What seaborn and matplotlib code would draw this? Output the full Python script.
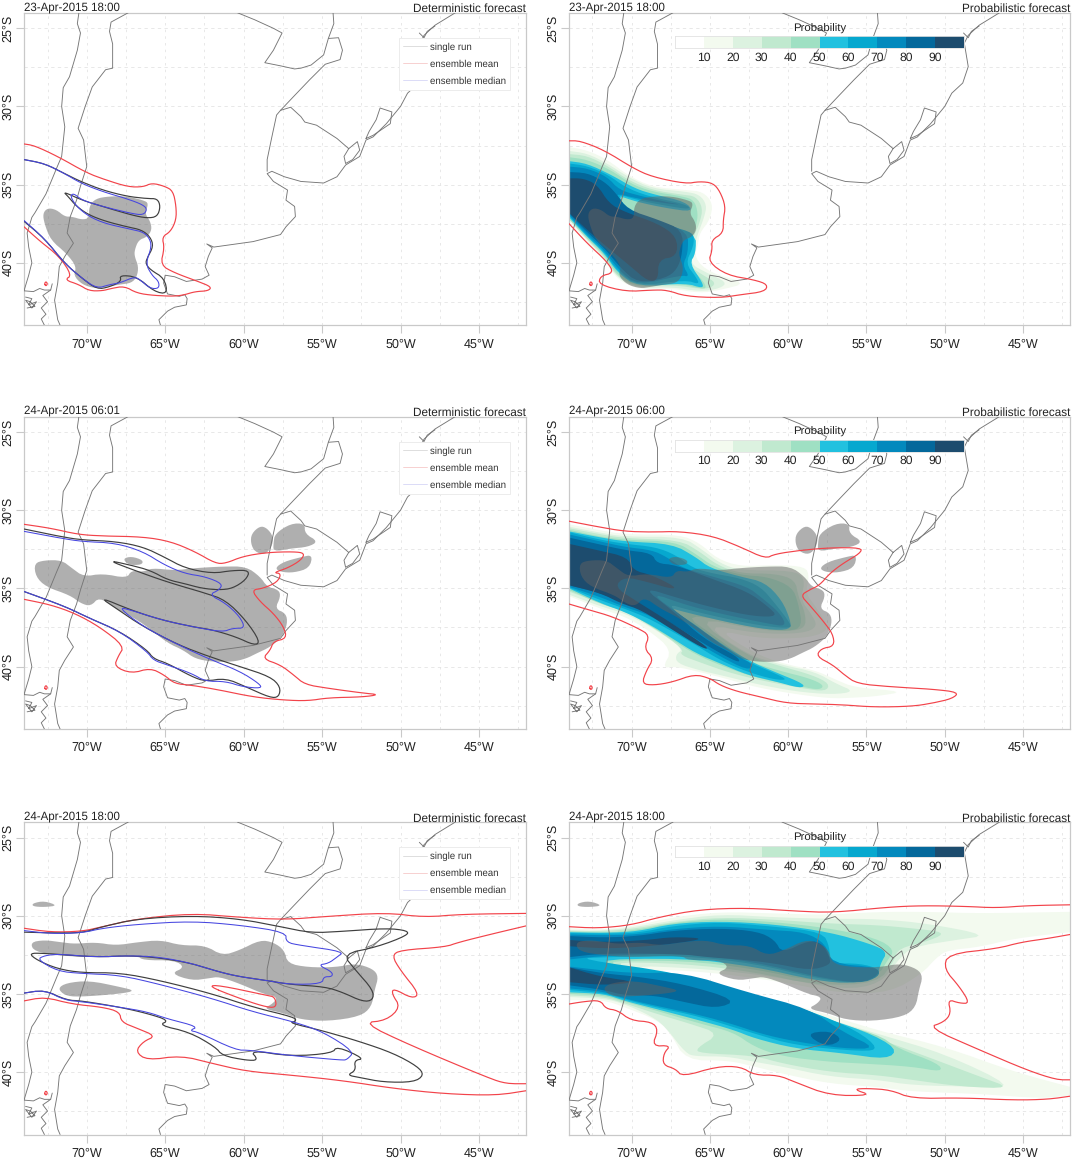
import matplotlib
matplotlib.use("Agg")
import matplotlib.pyplot as plt
from matplotlib.lines import Line2D
import seaborn as sns

# ---------- geography (lon, lat) ----------
CHILE_COAST = [(-70.5,-24),(-70.6,-24.7),(-70.4,-25.3),(-70.6,-26.4),(-71.1,-28.1),(-71.5,-28.8),(-71.6,-30),(-71.4,-31.3),(-71.6,-33.2),(-71.9,-33.9),(-72.6,-35.6),(-73.3,-36.8),(-73.5,-37.1),(-73.8,-38.1),(-73.7,-39),(-73.5,-40),(-73.7,-40.8),(-74,-41.8),(-73.4,-41.85),(-73,-41.65),(-72.7,-41.75),(-72.3,-41.75),(-72.2,-41.35)]
FJORD_COAST = [(-72.3,-41.75),(-72.8,-42.1),(-72.5,-42.5),(-72.9,-42.9),(-72.6,-43.3),(-72.9,-43.6),(-72.7,-44)]
ISLANDS = [(-73.9,-42.2),(-73.5,-42.3),(-73.7,-42.7),(-73.2,-42.5),(-73.5,-42.9),(-73.9,-42.4),(-73.6,-42.5),(-73.3,-42.8),(-73.8,-42.9)]
ANDES_BORDER = [(-67.35,-24),(-68.45,-24.6),(-68.55,-25.2),(-68.35,-26),(-68.35,-27.55),(-68.8,-27.65),(-69.65,-28.75),(-70.1,-30),(-70.55,-31.4),(-70.2,-32.15),(-70,-33.85),(-70.4,-35.1),(-70.65,-36),(-71.05,-37.05),(-71.25,-38.1),(-70.85,-38.75),(-71.4,-39.6),(-71.75,-40.25),(-71.85,-41.3),(-72.05,-42.4),(-71.85,-43.65),(-71.7,-44)]
PARAGUAY_BORDER = [(-60.4,-24),(-59.3,-24.45),(-58.1,-25),(-57.55,-25.3),(-58.1,-26.4),(-58.65,-27.2),(-57.65,-27.4),(-56.75,-27.6),(-56.35,-27.55),(-55.7,-27.35),(-54.9,-26.7),(-54.6,-25.65),(-54.25,-24.7),(-54.3,-24)]
URUGUAY_RIVER = [(-54.6,-25.65),(-53.95,-25.6),(-53.7,-26.4),(-53.85,-27),(-54.8,-27.3),(-55.8,-28.3),(-56.8,-29.35),(-57.65,-30.25),(-57.9,-30.55),(-58.2,-31.95),(-58.5,-33.4),(-58.5,-34.15)]
URUGUAY_NORTH = [(-57.65,-30.25),(-57,-30.05),(-56.35,-30.65),(-56.1,-31),(-55.35,-31.2),(-54.05,-32.05),(-53.3,-32.7)]
ATLANTIC_COAST = [(-46.5,-24),(-47.8,-24.8),(-48.5,-25.45),(-48.75,-25.95),(-48.5,-27.45),(-48.85,-28.5),(-49.55,-29.15),(-50,-30),(-50.9,-31.1),(-51.75,-31.95),(-52.2,-32.15),(-52.6,-33.2),(-53.5,-33.75),(-54.05,-34.5),(-54.9,-34.9),(-56.35,-34.8),(-57.4,-34.5),(-58.2,-34.15),(-58.5,-34.3),(-58.1,-34.8),(-57.2,-35.35),(-57.3,-36),(-56.75,-36.4),(-56.7,-37.05),(-57.3,-37.7),(-57.65,-38.2),(-59.4,-38.65),(-61.9,-39),(-62.35,-38.8),(-62,-39.05),(-62.25,-39.6),(-62.45,-40.25),(-62.2,-40.8),(-62.65,-41.05),(-63.65,-41.2),(-64.4,-40.9),(-65,-40.8),(-65.1,-41.3),(-64.85,-42),(-64.1,-42.15),(-63.75,-42.05),(-63.6,-42.3),(-63.65,-42.7),(-64.4,-42.85),(-64.85,-43.1),(-65.4,-43.65),(-65.3,-44)]
PATOS_LAGOON = [(-52.2,-32.05),(-52,-31.6),(-51.55,-30.85),(-51.3,-30.1),(-50.55,-30.35),(-50.65,-31.1),(-51.75,-31.85),(-52.2,-32.05)]
MERIN_LAGOON = [(-53.3,-32.7),(-52.75,-32.25),(-52.6,-32.8),(-53.05,-33.4),(-53.5,-33.65),(-53.6,-33.2),(-53.3,-32.7)]
PARANAGUA = [(-48.8,-25.3),(-48.5,-25.6),(-48.3,-25.2),(-48.1,-25.05),(-47.8,-24.85)]
RED_RING = [(-72.7,-41.35),(-72.6,-41.2),(-72.5,-41.35),(-72.6,-41.5),(-72.7,-41.35)]
GEO_LINES = [CHILE_COAST, FJORD_COAST, ISLANDS, ANDES_BORDER, PARAGUAY_BORDER, URUGUAY_RIVER, URUGUAY_NORTH, ATLANTIC_COAST, PATOS_LAGOON, MERIN_LAGOON, PARANAGUA]

# ---------- observations ----------
OBS1_MAIN = [(-72.8,-36.85),(-72.5,-36.5),(-71.95,-36.6),(-71.4,-37.05),(-70.95,-37.05),(-70.3,-37.25),(-69.85,-37.15),(-69.85,-36.4),(-69.45,-35.9),(-68.55,-35.75),(-67.45,-35.75),(-66.4,-36),(-66.05,-36.2),(-66.3,-36.85),(-65.95,-37.35),(-65.85,-37.9),(-66.15,-38.35),(-66.7,-38.55),(-66.95,-39.2),(-66.95,-39.6),(-66.7,-40.25),(-66.8,-40.9),(-67.15,-41.3),(-67.9,-41.4),(-68.8,-41.55),(-69.45,-41.65),(-70.3,-41.4),(-70.85,-40.8),(-70.65,-40.25),(-71.3,-39.4),(-72.3,-38.55),(-72.7,-37.5)]
OBS2_MAIN = [(-73.35,-33.4),(-72.7,-33.2),(-71.6,-33.2),(-70.95,-33.7),(-70.2,-34.25),(-69,-34.05),(-67.45,-34.35),(-67.15,-33.85),(-66.4,-33.95),(-65.85,-33.7),(-64.4,-33.85),(-63.1,-33.7),(-61.35,-33.6),(-59.85,-33.6),(-58.95,-34.25),(-58.5,-34.9),(-57.75,-35.1),(-57.65,-35.55),(-58,-36.3),(-57.3,-36.6),(-57.2,-37.25),(-57.55,-38.1),(-58.3,-38.75),(-59.15,-39.15),(-59.85,-39.5),(-60.7,-39.7),(-62,-39.7),(-63.1,-39.5),(-63.85,-38.95),(-64.85,-38.5),(-66.15,-37.45),(-67.15,-36.8),(-68.15,-36.3),(-69.2,-35.55),(-69.75,-36.15),(-70.4,-35.95),(-71.05,-35.45),(-72.6,-34.9),(-73.25,-34.25)]
OBS2_BLOB = [(-67.7,-33.1),(-67.15,-32.95),(-66.4,-33.2),(-66.5,-33.5),(-67.35,-33.5)]
OBS2_WEST = [(-59.5,-31.5),(-58.95,-31),(-58.5,-31.15),(-58.1,-31.7),(-58.2,-32.35),(-58.65,-32.85),(-59.3,-32.65),(-59.55,-32.1)]
OBS2_MID = [(-58,-31.5),(-57,-30.85),(-56.1,-30.85),(-56.1,-31.5),(-55.25,-32),(-55.9,-32.35),(-57,-32.45),(-58.1,-32.65),(-58.1,-32.1)]
OBS2_LOW = [(-58,-33.7),(-57.45,-33.3),(-56.35,-33),(-55.6,-32.85),(-55.8,-33.7),(-56.8,-34),(-57.65,-33.95)]
OBS3_TOP = [(-73.45,-29.2),(-72.7,-29.05),(-71.85,-29.35),(-72.7,-29.45),(-73.45,-29.4)]
OBS3_MAIN = [(-73.6,-31.7),(-72.7,-31.55),(-71.6,-31.7),(-70.75,-31.8),(-69.45,-31.7),(-68.15,-31.9),(-66.8,-31.7),(-65.3,-31.55),(-64,-31.9),(-62.45,-31.9),(-61.35,-32.55),(-60.25,-32.2),(-58.95,-31.55),(-58.1,-31.7),(-57.4,-32.2),(-57.2,-33.05),(-55.9,-33.3),(-54.15,-33.3),(-52.85,-33.05),(-51.75,-33.4),(-51.4,-33.9),(-51.65,-34.75),(-51.85,-35.85),(-52.6,-36.45),(-54.6,-36.75),(-56.35,-36.65),(-57.4,-36.25),(-58.75,-35.95),(-58.1,-35.6),(-57.85,-35.2),(-58.75,-35),(-60.25,-34.35),(-61.55,-33.9),(-62.2,-34),(-63.3,-34.15),(-64.65,-33.7),(-63.75,-33.3),(-64.4,-32.85),(-66.4,-32.85),(-66.8,-32.55),(-70.1,-32.65),(-71.6,-32.55),(-73.35,-32.3)]
OBS3_LOW = [(-71.85,-34.65),(-71.3,-34.3),(-69.85,-34.15),(-67.9,-34.55),(-66.9,-34.8),(-67.9,-35),(-70.55,-35.2),(-71.4,-35.1)]
OBS = [[OBS1_MAIN], [OBS2_MAIN, OBS2_BLOB, OBS2_WEST, OBS2_MID, OBS2_LOW], [OBS3_TOP, OBS3_MAIN, OBS3_LOW]]

# ---------- deterministic contours ----------
D1_SINGLE = [(-74,-33.4),(-72.7,-33.65),(-71.4,-34.3),(-70.4,-34.8),(-69,-35.35),(-67.45,-35.75),(-66.15,-35.9),(-65.5,-35.9),(-65.3,-36.4),(-65.5,-37.05),(-66.15,-37.15),(-67.15,-36.95),(-69,-36.4),(-70.3,-36),(-71.5,-35.45),(-71.2,-35.75),(-70.65,-36.4),(-69.85,-36.95),(-68.8,-37.35),(-67.45,-37.7),(-66.5,-37.9),(-65.95,-38.35),(-65.75,-38.95),(-66.15,-39.7),(-66.25,-40.05),(-65.95,-40.45),(-65.05,-41),(-64.85,-42),(-65.7,-41.85),(-66.8,-40.9),(-67.9,-40.8),(-67.8,-41.2),(-68.55,-41.55),(-69.35,-41.7),(-70.3,-41),(-71.4,-40.05),(-72.7,-38.45),(-74,-37.35)]
D1_MEAN = [(-74,-32.4),(-73.35,-32.5),(-71.85,-33.2),(-70,-34.25),(-68.8,-34.7),(-67.35,-35.15),(-66.4,-35.15),(-65.85,-34.9),(-65.05,-35.1),(-64.5,-35.4),(-64.3,-36.4),(-64.3,-37.25),(-64.65,-38),(-65.2,-38.35),(-65.05,-39.05),(-65.3,-40.15),(-64.4,-40.65),(-62.9,-41.2),(-62.05,-41.55),(-62.25,-41.8),(-63.1,-41.85),(-63.75,-42.05),(-64.4,-42.15),(-65.7,-42.1),(-66.8,-41.95),(-67.6,-41.5),(-68.45,-41.65),(-69,-41.8),(-69.85,-41.8),(-70.5,-41.4),(-71.4,-41.1),(-70.95,-40.8),(-71.75,-39.6),(-72.95,-38.65),(-74,-37.7)]
D1_MEDIAN = [(-74,-33.4),(-72.7,-33.65),(-71.4,-34.3),(-70.4,-34.9),(-69,-35.45),(-67.45,-35.9),(-66.4,-36.3),(-66.15,-36.6),(-66.4,-36.95),(-67.15,-36.85),(-69,-36.4),(-70.3,-36),(-70.85,-35.55),(-71.05,-35.75),(-70.65,-36.4),(-69.85,-37.05),(-68.8,-37.5),(-67.45,-37.8),(-66.5,-38),(-66.05,-38.35),(-65.85,-38.95),(-66.25,-40.05),(-65.85,-40.8),(-65.4,-41.2),(-65.4,-41.65),(-65.95,-41.65),(-66.6,-41.1),(-66.95,-40.9),(-67.9,-41.3),(-68.55,-41.4),(-69.35,-41.65),(-70.3,-41),(-71.4,-40.05),(-72.7,-38.45),(-74,-37.3)]
D2_SINGLE = [(-74,-31.2),(-71.6,-31.7),(-70.3,-31.9),(-68.15,-32),(-66.4,-32.35),(-65.05,-33),(-63.75,-33.7),(-62,-34.05),(-60.7,-33.85),(-59.6,-33.85),(-59.85,-34.45),(-60.7,-35),(-61.55,-35.1),(-62.65,-35),(-63.75,-34.7),(-64.85,-34.45),(-65.95,-33.85),(-67.25,-33.5),(-68.65,-33.2),(-66.95,-33.85),(-64.85,-34.6),(-62.45,-35.3),(-61.15,-35.75),(-59.85,-37.05),(-58.95,-38.4),(-59.3,-38.65),(-60.5,-38.1),(-62,-37.65),(-63.3,-37.45),(-65.3,-37),(-67.15,-36.4),(-69.2,-35.55),(-68.1,-36.3),(-66.4,-37.45),(-64.2,-38.6),(-62.25,-39.35),(-60.25,-40),(-58.3,-40.65),(-57.65,-41.3),(-57.75,-41.95),(-58.3,-42),(-59.85,-41.3),(-61.15,-40.75),(-62.45,-40.95),(-63.3,-40.65),(-64.85,-39.8),(-65.75,-39.5),(-66.15,-38.95),(-67.9,-37.75),(-69.85,-36.9),(-71.4,-36.15),(-74,-35.2)]
D2_MEAN = [(-74,-30.9),(-72.3,-31.15),(-70.55,-31.55),(-69,-31.65),(-66.4,-31.7),(-64.65,-32),(-63.1,-32.65),(-61.8,-33.4),(-61.15,-33.4),(-60.05,-32.95),(-58.5,-32.7),(-56.8,-32.65),(-56.1,-32.75),(-56.35,-33.2),(-57.2,-33.7),(-58.1,-34),(-57.6,-34.05),(-57.85,-34.6),(-58.75,-35),(-59.5,-35.1),(-58.95,-35.85),(-58.1,-36.6),(-57.45,-37.45),(-57.25,-38.2),(-58.1,-38.4),(-58.3,-38.95),(-58.8,-39.5),(-57.65,-39.9),(-56.8,-40.55),(-56.1,-41.15),(-54.6,-41.4),(-52.4,-41.7),(-51.35,-41.8),(-52.4,-41.95),(-54.6,-42),(-55.9,-42.2),(-57.45,-42.15),(-59.4,-41.95),(-61.55,-41.5),(-63.3,-41.2),(-64.4,-41.1),(-65.05,-40.55),(-65.95,-40.1),(-67.15,-40.45),(-68.25,-40),(-68,-39.35),(-67.6,-38.7),(-69.2,-37.45),(-70.75,-36.6),(-72.3,-36.05),(-74,-35.7)]
D2_MEDIAN = [(-74,-31.35),(-71.6,-31.8),(-70.3,-32),(-68.15,-32.1),(-66.4,-32.65),(-65.05,-33.5),(-63.75,-34.05),(-62.45,-34.25),(-61.35,-34.7),(-61.55,-35.1),(-62.2,-35.4),(-61.15,-35.95),(-60.25,-36.8),(-59.9,-37.55),(-60.7,-37.55),(-61.35,-37.8),(-63.3,-37.45),(-65.3,-37),(-67.15,-36.4),(-68,-36.2),(-66.4,-37.45),(-64.2,-38.6),(-62.25,-39.5),(-60.25,-40.3),(-59,-41.1),(-58.85,-41.4),(-60.05,-41.3),(-61.15,-40.95),(-62.45,-40.95),(-63.3,-40.45),(-64.85,-39.9),(-65.75,-39.6),(-66.15,-39.05),(-67.9,-37.75),(-69.85,-36.9),(-71.4,-36.15),(-74,-35.2)]
D3_SINGLE = [(-74,-31.05),(-72.3,-31.1),(-70.3,-31.1),(-69,-30.7),(-66.8,-30.2),(-63.3,-30),(-60.25,-30.2),(-57.65,-30.7),(-55.7,-31.1),(-53.7,-31),(-50.9,-30.8),(-49.55,-30.95),(-49.55,-31.25),(-51.5,-32),(-53.7,-32.45),(-52.85,-33.5),(-51.75,-34.75),(-51.75,-35.4),(-52.4,-35.5),(-53.7,-34.9),(-54.8,-34.55),(-57,-34.4),(-58.5,-34.15),(-60.25,-33.9),(-61.55,-33.6),(-63.3,-33.05),(-65.3,-32.7),(-67.25,-32.55),(-69.45,-32.65),(-72.7,-32.4),(-73.7,-32.4),(-73.15,-32.85),(-71.85,-33.4),(-70.3,-33.65),(-67.9,-33.65),(-65.3,-34.15),(-62,-35),(-59.4,-35.85),(-56.75,-36.5),(-56.65,-36.75),(-57.1,-36.85),(-55,-37.35),(-52.6,-38.05),(-50.45,-38.8),(-48.9,-39.65),(-48.5,-40.2),(-49.15,-40.65),(-51.1,-40.65),(-52.6,-40.35),(-53.4,-40.2),(-52.85,-39.9),(-52.95,-39.25),(-52.3,-39.15),(-54.05,-38.35),(-54.35,-38.8),(-57,-39),(-59.6,-38.6),(-59.05,-39.25),(-59.85,-39.25),(-61.35,-38.95),(-61.8,-38.4),(-63.45,-37.45),(-65.4,-37),(-64.75,-36.7),(-66.15,-36.25),(-67.9,-35.85),(-70.3,-35.45),(-71.3,-35.4),(-72.7,-34.75),(-74,-34.95)]
D3_MEAN_TOP = [(-74,-30.8),(-72.3,-31.05),(-70.3,-31),(-69,-30.7),(-66.8,-30.2),(-63.3,-29.85),(-60.25,-30.1),(-57.4,-30.25),(-54.8,-30.05),(-50.9,-29.8),(-48.5,-30.1),(-46.05,-29.9),(-42,-29.85)]
D3_MEAN_MID = [(-42,-30.65),(-44.1,-31.15),(-46.3,-31.7),(-47.15,-32),(-50,-32.2),(-50.55,-32.55),(-50,-33.5),(-48.8,-35),(-49.25,-35.3),(-50.45,-34.65),(-50.55,-35),(-50,-35.85),(-50.9,-36.7),(-52.4,-36.85),(-49.35,-38.3),(-44.35,-40.4),(-43.25,-40.75),(-42,-40.75)]
D3_MEAN_LOW = [(-42,-41.2),(-43.9,-41.5),(-47.15,-41.4),(-50.45,-41.05),(-53.7,-40.55),(-57,-40.2),(-59.85,-39.95),(-62,-39.45),(-64,-38.95),(-66.15,-39.25),(-66.9,-38.7),(-66.4,-38.05),(-65.6,-37.7),(-66.8,-37.2),(-67.8,-36.8),(-67.9,-36.15),(-69,-35.85),(-70.95,-35.65),(-72.7,-35.2),(-74,-35.45)]
D3_MEAN_INNER = [(-62.25,-34.5),(-61.55,-34.45),(-58.5,-35.1),(-58,-35.2),(-57.9,-35.9),(-58.75,-35.8),(-60.5,-35.2),(-62.25,-34.5)]
D3_MEDIAN = [(-74,-30.95),(-72.3,-31.15),(-70.3,-31.1),(-69,-30.8),(-66.8,-30.55),(-63.3,-30.35),(-60.25,-30.6),(-57.3,-31.05),(-57.3,-31.7),(-56.35,-31.9),(-53.6,-32.3),(-54.05,-32.65),(-54.6,-33.05),(-55.25,-33.15),(-54.35,-33.6),(-54.35,-33.9),(-54.9,-33.9),(-55,-34.35),(-57,-34.4),(-58.5,-34.15),(-60.25,-33.9),(-61.55,-33.6),(-63.3,-33.05),(-65.3,-32.65),(-67.25,-32.55),(-69.45,-32.65),(-71.75,-32.45),(-72.7,-32.55),(-73.15,-32.8),(-71.85,-33.55),(-70.3,-33.7),(-67.9,-33.8),(-65.3,-34.4),(-62,-35.3),(-59.4,-36.15),(-56.75,-36.8),(-54.9,-37.45),(-52.95,-38.7),(-53.4,-39.2),(-53.7,-39.25),(-57,-38.95),(-59.6,-38.6),(-60.5,-38.6),(-62.9,-37.45),(-63.45,-37.35),(-62.9,-37.1),(-64.85,-36.6),(-66.15,-36.15),(-67.9,-35.85),(-70.3,-35.5),(-71.4,-35.4),(-72.7,-34.75),(-74,-34.95)]
DET_SINGLE = [[D1_SINGLE],[D2_SINGLE],[D3_SINGLE]]
DET_MEAN = [[D1_MEAN,RED_RING],[D2_MEAN,RED_RING],[D3_MEAN_TOP,D3_MEAN_MID,D3_MEAN_LOW,D3_MEAN_INNER,RED_RING]]
DET_MEDIAN = [[D1_MEDIAN],[D2_MEDIAN],[D3_MEDIAN]]

# ---------- probabilistic: 1 % outline ----------
P1_OUTLINE = [(-74,-32.2),(-73.3,-32.2),(-71.75,-32.8),(-69.9,-33.95),(-68.7,-34.5),(-66.55,-34.95),(-65.65,-34.8),(-64.8,-34.9),(-64.35,-35.45),(-64,-36.4),(-64.15,-37.25),(-64.15,-38.1),(-64.9,-38.55),(-64.85,-39.2),(-65.1,-39.95),(-63.9,-40.8),(-62.15,-41.1),(-61.3,-41.4),(-61.5,-41.85),(-63.05,-42.05),(-64.35,-42.25),(-66.55,-42.15),(-67.75,-41.75),(-68.7,-41.75),(-70.35,-41.85),(-72.1,-41.4),(-72,-40.85),(-71.15,-40.65),(-71.55,-39.95),(-72.85,-38.75),(-74,-37.5)]
P2_OUTLINE = [(-74,-30.7),(-72.2,-31.05),(-70.45,-31.35),(-68.7,-31.4),(-66.95,-31.35),(-64.8,-31.65),(-63.05,-32.35),(-61.45,-33.1),(-60.85,-32.8),(-59.1,-32.55),(-57.35,-32.4),(-55.3,-32.4),(-55.4,-32.75),(-56.5,-33.4),(-57.35,-34.05),(-58,-34.8),(-58.65,-35.1),(-59.2,-35.45),(-58.65,-36.05),(-57.8,-37.05),(-57.15,-37.9),(-57.05,-38.7),(-57.9,-38.85),(-58.2,-39.35),(-57.15,-39.9),(-56.4,-40.55),(-55.6,-41.1),(-53.45,-41.3),(-50.8,-41.45),(-49.1,-41.65),(-49.5,-42.05),(-50.8,-42.35),(-52.1,-42.55),(-54.5,-42.6),(-56.5,-42.45),(-58.25,-42.4),(-60.1,-42.35),(-61.75,-41.95),(-63.25,-41.6),(-64.35,-41.2),(-65,-40.75),(-66,-40.5),(-67.4,-41),(-68.6,-41.2),(-69.35,-41.1),(-69.05,-40.25),(-68.6,-39.5),(-69.2,-38.85),(-68.85,-38),(-69.6,-37.55),(-71.25,-36.8),(-72.65,-36.4),(-74,-36)]
P3_OUTLINE_TOP = [(-74,-30.7),(-72.2,-30.8),(-70.05,-30.6),(-68.3,-30.1),(-65.65,-29.6),(-62.6,-29.5),(-59.55,-29.7),(-57.15,-29.8),(-53.65,-29.45),(-51.45,-29.35),(-48.65,-29.4),(-46.7,-29.5),(-44.7,-29.35),(-42,-29.3)]
P3_OUTLINE_MID = [(-42,-31.2),(-43.4,-31.45),(-45.15,-31.7),(-46.65,-32.1),(-49.8,-32.45),(-50.05,-33.4),(-49.05,-34.55),(-48.4,-35.6),(-49.05,-35.6),(-49.8,-35.35),(-49.6,-36.25),(-50.05,-36.8),(-51.05,-37.15),(-47.75,-38.6),(-44.7,-39.9),(-42.85,-40.5),(-42,-40.5)]
P3_OUTLINE_LOW = [(-42,-41.55),(-43.4,-41.75),(-45.55,-41.8),(-48.85,-41.65),(-52.1,-41.7),(-53.45,-41.15),(-54.95,-41.05),(-55.85,-41.1),(-54.65,-41.5),(-57.35,-41.5),(-59.55,-40.65),(-60.65,-40.2),(-62.15,-40.2),(-63.05,-39.65),(-64.55,-39.65),(-66.75,-40.3),(-67.2,-39.8),(-68,-39.55),(-67.95,-38.8),(-67.5,-38.3),(-68.7,-38.35),(-68.3,-37.3),(-68.7,-36.8),(-70.05,-36.7),(-70.9,-36.05),(-71.65,-35.95),(-72,-35.4),(-73.1,-35.5),(-74,-35.65)]
PROB_OUTLINES = [[P1_OUTLINE,RED_RING],[P2_OUTLINE,RED_RING],[P3_OUTLINE_TOP,P3_OUTLINE_MID,P3_OUTLINE_LOW,RED_RING]]

# ---------- probability levels, panel 1 ----------
P1_L10 = [(-74,-32.6),(-72.85,-32.8),(-71.55,-33.4),(-70.25,-34.4),(-68.7,-35.15),(-66.55,-35.35),(-65.45,-35.45),(-64.8,-36.2),(-65,-37.25),(-65.65,-38.1),(-65.75,-38.75),(-66,-39.7),(-65,-40.65),(-62.6,-41.3),(-64.35,-41.75),(-65.65,-41.95),(-67.4,-41.65),(-69.6,-41.7),(-70.9,-41.1),(-71.75,-39.8),(-72.85,-38.65),(-74,-37.35)]
P1_L20 = [(-74,-32.85),(-72.85,-33),(-71.55,-33.65),(-70.25,-34.5),(-68.7,-35.25),(-66.55,-35.45),(-65.65,-35.65),(-65.2,-36.3),(-65.35,-37.05),(-65.75,-38.1),(-66,-38.95),(-66.3,-40.05),(-65.2,-40.65),(-63.9,-41.25),(-64.35,-41.65),(-65.65,-41.85),(-67.4,-41.55),(-69.6,-41.65),(-70.9,-41),(-71.75,-39.7),(-72.85,-38.55),(-74,-37.25)]
P1_L30 = [(-74,-33.05),(-72.85,-33.15),(-71.45,-33.85),(-70.25,-34.7),(-68.7,-35.35),(-66.75,-35.65),(-65.9,-35.75),(-65.45,-36.5),(-65.65,-37.45),(-66,-38.2),(-66.2,-39.05),(-66.55,-40.05),(-65.45,-40.8),(-64.55,-41.3),(-65.2,-41.75),(-67.4,-41.4),(-69.6,-41.6),(-70.9,-40.95),(-71.75,-39.6),(-72.85,-38.5),(-74,-37.2)]
P1_L40 = [(-74,-33.25),(-72.85,-33.4),(-71.35,-34.05),(-70.05,-34.95),(-68.7,-35.45),(-66.75,-35.75),(-66,-36),(-65.75,-36.85),(-65.9,-37.7),(-66.1,-38.35),(-66.3,-39.2),(-66.55,-40.15),(-65.65,-40.9),(-65.2,-41.55),(-65.45,-41.7),(-67,-41.3),(-69.6,-41.55),(-70.9,-40.85),(-71.75,-39.5),(-72.85,-38.45),(-74,-37.2)]
P1_L50 = [(-74,-33.5),(-72.85,-33.65),(-71.25,-34.4),(-69.8,-35.25),(-68.5,-35.65),(-66.55,-36.1),(-66.05,-36.75),(-67.85,-36.5),(-69.7,-36.1),(-71,-35.65),(-69.9,-36.95),(-68.3,-37.7),(-65.9,-38.1),(-65.9,-39.4),(-66.3,-40.05),(-65.45,-41.3),(-65.45,-41.65),(-66.55,-41.3),(-69.6,-41.55),(-70.9,-40.65),(-71.75,-39.4),(-72.85,-38.35),(-74,-37.1)]
P1_L60 = [(-74,-33.65),(-72.85,-33.8),(-71.45,-34.4),(-70.45,-35.15),(-68.95,-35.75),(-66.55,-36.25),(-66.2,-36.6),(-67.85,-36.35),(-69.6,-36),(-71.05,-35.55),(-70.05,-36.85),(-68.3,-37.5),(-66.2,-38),(-66,-38.45),(-66.1,-39.05),(-66.55,-40.05),(-65.9,-40.9),(-65.65,-41.4),(-66.55,-41.1),(-69.6,-41.5),(-70.9,-40.55),(-71.75,-39.3),(-72.85,-38.3),(-74,-37)]
P1_L70 = [(-74,-33.85),(-72.85,-33.95),(-71.55,-34.5),(-70.8,-35.35),(-69.35,-35.75),(-67.85,-36.1),(-66.75,-36.3),(-67.85,-36.2),(-69.6,-35.9),(-71.25,-35.5),(-70.15,-36.75),(-68.3,-37.35),(-66.4,-38),(-66.4,-39.4),(-66.75,-40.15),(-66.3,-40.9),(-66.85,-40.8),(-69.6,-41.45),(-70.8,-40.5),(-71.75,-39.2),(-72.85,-38.2),(-74,-36.95)]
P1_L80 = [(-74,-34.2),(-72.85,-34.25),(-71.75,-34.8),(-71,-35.55),(-70.25,-36.6),(-68.3,-37.25),(-66.75,-37.9),(-66.75,-39.4),(-67.1,-40.45),(-67.85,-41),(-69.6,-41.3),(-70.7,-40.35),(-71.75,-39.05),(-72.85,-38.05),(-74,-36.85)]
P1_L90 = [(-74,-34.6),(-73.1,-34.6),(-72.2,-35),(-71.45,-36.2),(-70.45,-36.75),(-68.3,-37.5),(-67.1,-38.35),(-67.1,-39.6),(-68.3,-39.8),(-68.3,-41.1),(-68.95,-41.2),(-70.05,-40.25),(-71.75,-38.85),(-72.85,-37.9),(-74,-36.8)]
# ---------- panel 2 ----------
P2_L10 = [(-74,-30.9),(-72.2,-31.25),(-70.45,-31.55),(-66.95,-31.55),(-65.65,-32.1),(-64.55,-33.1),(-63.05,-33.6),(-60.85,-33.5),(-58.9,-33.6),(-58.65,-34.25),(-58.9,-35.3),(-58.25,-36.15),(-57.45,-37.45),(-57.8,-37.9),(-59.1,-38.2),(-61.95,-38.2),(-64.55,-37.65),(-62.15,-39.15),(-60.4,-39.8),(-58.25,-40.25),(-56.95,-40.85),(-55.75,-41.35),(-52.55,-41.6),(-54.3,-41.9),(-55.85,-42),(-57.35,-42.05),(-60,-41.7),(-62.15,-41.3),(-63.9,-40.8),(-65.65,-40.35),(-67.2,-40),(-68.05,-40.1),(-67.4,-38.95),(-68.95,-37.65),(-70.45,-36.8),(-72,-36.3),(-74,-35.5)]
P2_L20 = [(-74,-31.05),(-72.2,-31.4),(-70.45,-31.7),(-66.75,-31.7),(-65.45,-32.55),(-64.35,-33.4),(-63.05,-33.85),(-59.75,-33.85),(-58.9,-34.35),(-59.2,-35.75),(-58.55,-36.6),(-58.1,-37.45),(-59.1,-37.9),(-61.95,-37.9),(-65.45,-37.25),(-62.6,-39.25),(-60.4,-39.9),(-58.25,-40.35),(-56.95,-41.1),(-55.75,-41.6),(-57.15,-41.8),(-59.55,-41.6),(-62.15,-41.1),(-63.9,-40.65),(-65.65,-40.25),(-67.1,-39.8),(-67.2,-39.25),(-66.65,-38.85),(-68.95,-37.35),(-70.45,-36.6),(-72,-36.15),(-74,-35.4)]
P2_L30 = [(-74,-31.15),(-72.2,-31.5),(-70.45,-31.8),(-66.95,-31.9),(-65.65,-32.65),(-64.55,-33.5),(-63.05,-34.05),(-60.85,-34.05),(-59.55,-34.45),(-59.35,-35.55),(-58.9,-36.6),(-58.9,-37.55),(-60,-37.75),(-61.95,-37.65),(-66.1,-36.8),(-62.6,-39.35),(-60.4,-40),(-58.45,-40.55),(-57.35,-41.1),(-57.6,-41.6),(-59.1,-41.4),(-61.95,-40.85),(-63.9,-40.35),(-65.45,-39.8),(-66.95,-39.25),(-66.65,-38.9),(-68.7,-37.45),(-70.45,-36.4),(-72,-35.95),(-74,-35.2)]
P2_L40 = [(-74,-31.25),(-72.2,-31.65),(-70.45,-31.9),(-67.2,-32),(-65.9,-32.8),(-64.8,-33.6),(-63.05,-34.15),(-61.3,-34.25),(-59.75,-34.9),(-59.35,-35.95),(-59.1,-37.45),(-59.9,-37.75),(-61.95,-37.55),(-66.95,-36.5),(-64.35,-38.3),(-62.6,-39.65),(-60.65,-40.25),(-58.65,-40.75),(-57.7,-41.2),(-58,-41.5),(-59.1,-41.3),(-61.95,-40.75),(-63.9,-40.1),(-65.9,-39.25),(-67.4,-38.3),(-68.85,-37.35),(-70.45,-36.45),(-72,-36),(-74,-35.1)]
P2_L50 = [(-74,-31.35),(-72.2,-31.7),(-70.45,-32),(-67.4,-32.15),(-65.9,-33),(-65,-33.7),(-63.05,-34.25),(-61.5,-34.6),(-60.4,-35.75),(-59.85,-37.05),(-59.85,-37.65),(-61.3,-37.65),(-63.5,-37.25),(-66.3,-36.6),(-67.95,-36.15),(-66.3,-37.05),(-64.8,-38.2),(-62.6,-39.6),(-60.85,-40.35),(-58.9,-41.15),(-59.2,-41.4),(-60.85,-40.95),(-62.6,-40.55),(-64.35,-39.8),(-65.9,-39.15),(-67.4,-38.2),(-68.95,-37.25),(-70.45,-36.5),(-72,-35.95),(-74,-35)]
P2_L60 = [(-74,-31.4),(-72.2,-31.85),(-70.45,-32.15),(-68.5,-32.35),(-67.2,-32.85),(-66.1,-33.7),(-64.8,-34.05),(-63.05,-34.35),(-61.75,-34.9),(-60.85,-35.95),(-59.85,-37.25),(-59.85,-37.55),(-61.3,-37.45),(-63.5,-37.05),(-66.3,-36.4),(-67.85,-35.95),(-65.9,-37.45),(-64.55,-38.4),(-62.6,-39.7),(-61.05,-40.35),(-60,-40.85),(-60.85,-40.85),(-62.6,-40.35),(-64.35,-39.6),(-66.1,-38.5),(-67.6,-37.65),(-68.95,-36.9),(-70.45,-36.3),(-72,-35.75),(-74,-34.95)]
P2_L70 = [(-74,-31.55),(-72.2,-31.95),(-70.45,-32.35),(-68.7,-32.55),(-67.75,-33),(-66.75,-33.7),(-64.8,-34.25),(-62.6,-34.9),(-61.75,-35.55),(-60.5,-36.6),(-60.1,-37.45),(-61.3,-37.25),(-63.5,-36.8),(-66.3,-36.15),(-68.95,-35.2),(-66.75,-36.8),(-65.2,-37.9),(-63.25,-39.35),(-62.15,-39.9),(-62.6,-40.25),(-64.35,-39.35),(-66.1,-38.3),(-67.6,-37.45),(-69.15,-36.6),(-70.45,-36.2),(-72,-35.55),(-74,-34.9)]
P2_L80 = [(-74,-31.75),(-72.2,-32.15),(-70.45,-32.55),(-68.7,-32.75),(-68.4,-33.4),(-67.2,-33.5),(-65,-34.35),(-62.6,-35.2),(-61.3,-36.15),(-60.65,-36.8),(-62.15,-36.8),(-64.55,-36.3),(-66.95,-35.65),(-69.35,-34.9),(-67.4,-36.4),(-65.45,-38.2),(-63.25,-39.35),(-63.05,-39.8),(-64.35,-39.15),(-66.1,-38.1),(-67.6,-37.15),(-69.35,-36.3),(-70.45,-35.95),(-72,-35.3),(-74,-34.8)]
P2_L90 = [(-74,-32.15),(-72.2,-32.55),(-70.25,-33),(-69.9,-33.85),(-68.7,-34.15),(-67.2,-34.9),(-67.4,-35.05),(-68.95,-34.6),(-70.45,-34.25),(-71.1,-34.9),(-69.8,-35.75),(-67.4,-37.25),(-65,-38.85),(-65.45,-38.85),(-67.4,-37.65),(-69.35,-36.4),(-70.7,-35.95),(-72,-35.3),(-74,-34.8)]
# ---------- panel 3 ----------
P3_L10 = [(-74,-30.8),(-71.75,-30.9),(-69.6,-30.6),(-67.4,-30.1),(-64.35,-29.75),(-60.85,-29.85),(-57.6,-29.95),(-54.3,-29.75),(-51.05,-29.75),(-47.75,-29.85),(-42,-29.75),(-42,-31.05),(-45.55,-31.45),(-47.75,-32),(-49.8,-32.2),(-50.5,-32.65),(-51.45,-33.7),(-53.45,-34.9),(-56.5,-35),(-60.85,-34.15),(-65.2,-33.6),(-68.95,-33.4),(-65.2,-34.25),(-61.95,-35.2),(-58.65,-35.95),(-54.3,-37.35),(-49.95,-38.4),(-45.55,-40),(-42,-40.95),(-42,-41.5),(-43.8,-41.7),(-47.75,-41.4),(-52.1,-41.25),(-54.3,-40.95),(-57.35,-40.75),(-60.4,-40.1),(-62.15,-39.65),(-63.9,-39.25),(-66.55,-39.25),(-67.5,-37.55),(-68.3,-36.7),(-70.45,-35.85),(-71.75,-35.4),(-74,-35.4)]
P3_L20 = [(-74,-30.95),(-71.75,-30.95),(-69.6,-30.7),(-67.4,-30.3),(-64.35,-29.9),(-60.85,-30.1),(-57.35,-30.2),(-54.3,-30.2),(-51.05,-30.5),(-47.2,-31.25),(-49.3,-31.55),(-52.1,-32),(-53,-32.85),(-54.1,-34.35),(-56.5,-34.75),(-60.85,-33.9),(-65.2,-33.4),(-70.9,-33.15),(-65.2,-34.55),(-61.95,-35.4),(-58.65,-36.25),(-54.3,-37.55),(-49.95,-38.85),(-45.55,-40.95),(-47.75,-40.95),(-52.1,-40.85),(-54.3,-40.5),(-57.35,-40.3),(-60.4,-39.65),(-62.15,-39.35),(-63.9,-39),(-65.9,-39),(-66.55,-38.8),(-67.85,-37.1),(-68.7,-36.45),(-70.45,-35.65),(-71.75,-35.3),(-74,-35.2)]
P3_L30 = [(-74,-30.95),(-71.75,-31),(-69.6,-30.8),(-67.4,-30.4),(-64.35,-30.1),(-60.85,-30.25),(-57.35,-30.5),(-54.3,-30.6),(-52.1,-30.8),(-49.95,-31.05),(-50.8,-31.55),(-53,-32.1),(-53.2,-32.85),(-54.3,-34.35),(-58.25,-34.45),(-62.15,-33.6),(-66.75,-33.05),(-72,-32.95),(-66.75,-34.15),(-61.95,-35.6),(-58.65,-36.45),(-54.3,-37.85),(-51.05,-39.05),(-47.75,-40.3),(-45.7,-41.05),(-48.85,-40.95),(-52.1,-40.5),(-54.3,-40.2),(-57.35,-40),(-60.4,-39.45),(-62.15,-38.95),(-65.65,-38.8),(-65.9,-38.5),(-64.35,-37.55),(-66.3,-36.9),(-68.5,-36.25),(-70.45,-35.6),(-71.75,-35.2),(-74,-35.1)]
P3_L40 = [(-74,-31),(-71.75,-31.1),(-69.6,-30.9),(-67.4,-30.45),(-64.35,-30.2),(-60.85,-30.4),(-57.35,-30.8),(-54.3,-31.45),(-53.2,-32.2),(-53.65,-32.85),(-54.3,-33.9),(-58.25,-34.25),(-62.15,-33.4),(-66.75,-32.85),(-72.65,-32.9),(-66.75,-33.9),(-61.95,-35.5),(-58.65,-36.45),(-54.3,-37.55),(-53,-38.5),(-50.4,-39.45),(-50.15,-40),(-52.1,-39.65),(-55.4,-39.45),(-57.35,-39.35),(-60.4,-39),(-62.15,-38.4),(-63.5,-37.45),(-65.65,-36.9),(-68.5,-36.05),(-70.45,-35.5),(-71.75,-35.1),(-74,-35)]
P3_L50 = [(-74,-31.05),(-71.75,-31.1),(-69.6,-31),(-67.4,-30.5),(-64.35,-30.35),(-60.85,-30.55),(-57.35,-31.05),(-54.75,-31.8),(-53.65,-32.3),(-54.1,-33.05),(-54.3,-33.9),(-55.85,-34.35),(-58.25,-34.15),(-62.15,-33.25),(-66.75,-32.7),(-73.2,-32.85),(-66.75,-33.8),(-62.6,-35.2),(-58.65,-36.25),(-55.15,-37.35),(-53,-38.5),(-53.65,-39.2),(-56.5,-38.8),(-59.55,-38.5),(-62.15,-37.85),(-63.5,-37.3),(-65.65,-36.7),(-68.5,-35.95),(-70.45,-35.45),(-71.75,-35),(-74,-34.9)]
P3_L60 = [(-74,-31.1),(-71.75,-31.15),(-69.6,-31.1),(-67.4,-30.65),(-64.35,-30.4),(-60.85,-30.7),(-57.8,-31.05),(-57.35,-32),(-57.35,-33.05),(-55.4,-33.05),(-54.2,-33.4),(-54.2,-33.9),(-55.4,-34.35),(-58.25,-34),(-62.15,-33.05),(-66.75,-32.55),(-71.75,-32.65),(-73.5,-32.75),(-66.75,-33.7),(-62.6,-35),(-58.65,-36.05),(-55.6,-37.35),(-54.2,-38.5),(-55.2,-38.7),(-59.55,-38.3),(-62.15,-37.55),(-65.65,-36.45),(-68.5,-35.85),(-70.45,-35.35),(-71.75,-34.95),(-74,-34.75)]
P3_L70 = [(-74,-31.2),(-71.75,-31.25),(-69.6,-31.2),(-67.4,-30.85),(-64.35,-30.65),(-61.3,-30.9),(-58.9,-31.05),(-57.6,-31.8),(-57.25,-33.05),(-54.3,-33.3),(-54.2,-33.8),(-55.4,-34.35),(-58.25,-33.9),(-62.15,-32.95),(-66.75,-32.4),(-71.75,-32.55),(-74,-32.8),(-74,-33.25),(-70.05,-33.7),(-66.75,-33.6),(-62.6,-34.9),(-58.65,-35.95),(-56.5,-37.45),(-54.3,-38.5),(-56.5,-38.5),(-59.55,-38.05),(-61.75,-37.55),(-63.5,-36.95),(-65.65,-36.35),(-68.5,-35.75),(-70.45,-35.3),(-71.75,-34.85),(-74,-34.65)]
P3_L80A = [(-74,-31.3),(-71.75,-31.4),(-69.6,-31.3),(-67.4,-30.95),(-64.35,-30.8),(-61.95,-31),(-60.85,-31.55),(-60.4,-32.4),(-58.65,-31.55),(-57.8,-31.8),(-57.35,-32.65),(-57.3,-33.15),(-58.65,-33.5),(-60.85,-33.05),(-63.05,-32.8),(-65.2,-32.65),(-66.75,-32.45),(-71.75,-32.4),(-74,-32.65)]
P3_L80B = [(-74,-33.3),(-71.75,-33.7),(-69.6,-33.9),(-66.75,-34.35),(-63.25,-35.4),(-64.55,-35.95),(-66.75,-35.5),(-68.5,-35.1),(-70.45,-35.1),(-71.75,-34.75),(-74,-34.45)]
P3_L80C = [(-58.9,-37.55),(-57.35,-37.35),(-56.5,-37.95),(-57.6,-38.4)]
P3_L90A = [(-74,-31.55),(-71.75,-31.7),(-68.95,-31.55),(-67.4,-31.35),(-65.2,-31.45),(-67.4,-31.8),(-69.6,-32),(-71.75,-32.1),(-74,-31.95)]
P3_L90B = [(-74,-33.3),(-72,-33.9),(-69.6,-34.25),(-71.75,-34.45),(-74,-34.25)]

LEVEL_COLOURS = ["#ffffff","#f3faef","#dcf2e0","#c0e9cf","#9fe0c3","#22c1df","#06a8cf","#0389bd","#04689b","#1d4c6e"]
BAR_EDGES = [0,10,20,30,40,50,60,70,80,90]
BAR_TICKS = [10,20,30,40,50,60,70,80,90]
P1_LEVELS = [[P1_L10],[P1_L20],[P1_L30],[P1_L40],[P1_L50],[P1_L60],[P1_L70],[P1_L80],[P1_L90]]
P2_LEVELS = [[P2_L10],[P2_L20],[P2_L30],[P2_L40],[P2_L50],[P2_L60],[P2_L70],[P2_L80],[P2_L90]]
P3_LEVELS = [[P3_L10],[P3_L20],[P3_L30],[P3_L40],[P3_L50],[P3_L60],[P3_L70],[P3_L80A,P3_L80B,P3_L80C],[P3_L90A,P3_L90B]]
PROB_LEVELS = [P1_LEVELS,P2_LEVELS,P3_LEVELS]

TIME_DET = ["23-Apr-2015 18:00","24-Apr-2015 06:01","24-Apr-2015 18:00"]
TIME_PROB = ["23-Apr-2015 18:00","24-Apr-2015 06:00","24-Apr-2015 18:00"]
LON_TICKS = [-70,-65,-60,-55,-50,-45]
LAT_TICKS = [-25,-30,-35,-40]
LON_GRID = [-72.5,-70,-67.5,-65,-62.5,-60,-57.5,-55,-52.5,-50,-47.5,-45,-42.5]
LAT_GRID = [-25,-27.5,-30,-32.5,-35,-37.5,-40,-42.5]

sns.set_theme(style="white")
plt.rcParams["font.family"] = ["Liberation Sans", "DejaVu Sans"]
plt.rcParams["text.hinting"] = "none"

W, H = 1072, 1159
fig = plt.figure(figsize=(W/100, H/100), dpi=100, facecolor="white")
FRAME = "#c9c9c9"
BLACK, RED, BLUE, COAST = "#3f3f3f", "#f2434a", "#4646e0", "#767676"


def rounded(pts, passes=2):
    """Draw the digitised outline with rounded corners; vertices on the frame stay put."""
    closed = pts[0] == pts[-1]
    out = list(pts[:-1]) if closed else list(pts)
    for _ in range(passes):
        n = len(out)
        new = []
        for i, (x, y) in enumerate(out):
            if x <= -74 or x >= -42 or (not closed and i in (0, n - 1)):
                new.append((x, y))
                continue
            px, py = out[(i - 1) % n]
            qx, qy = out[(i + 1) % n]
            new.append((0.75 * x + 0.25 * px, 0.75 * y + 0.25 * py))
            new.append((0.75 * x + 0.25 * qx, 0.75 * y + 0.25 * qy))
        out = new
    return out + [out[0]] if closed else out


def draw(ax, pts, color, lw, z):
    sns.lineplot(x=[p[0] for p in pts], y=[p[1] for p in pts], sort=False, estimator=None,
                 color=color, linewidth=lw, zorder=z, ax=ax, legend=False)


def fill(ax, pts, z, **kw):
    pts = rounded(pts + [pts[0]])
    ax.fill([p[0] for p in pts], [p[1] for p in pts], lw=0, zorder=z, **kw)


def base(left, top, width, height, stamp, title):
    ax = fig.add_axes([left/W, 1-(top+height)/H, width/W, height/H])
    ax.set_xlim(-74, -42)
    ax.set_ylim(-44, -24)
    ax.set_xticks(LON_TICKS)
    ax.set_xticklabels([f"{-v}°W" for v in LON_TICKS], fontsize=9, color="#222222")
    ax.set_yticks(LAT_TICKS)
    ax.set_yticklabels([f"{-v}°S" for v in LAT_TICKS], fontsize=9, color="#222222", rotation=90, va="center")
    ax.tick_params(axis="x", length=5.8, width=0.8, color=FRAME, pad=3.5, bottom=True)
    ax.tick_params(axis="y", length=5.8, width=0.8, color=FRAME, pad=1.5, left=True)
    for s in ax.spines.values():
        s.set_color(FRAME); s.set_linewidth(0.9)
    for g in LON_GRID:
        ax.axvline(g, color="#e4e4e4", lw=0.6, ls=(0, (3, 5)), zorder=0.5)
    for g in LAT_GRID:
        ax.axhline(g, color="#e4e4e4", lw=0.6, ls=(0, (4, 4)), zorder=0.5)
    ax.text(0, 1.008, stamp, transform=ax.transAxes, ha="left", va="baseline", fontsize=8.3, color="#222222")
    ax.text(1, 1.002, title, transform=ax.transAxes, ha="right", va="baseline", fontsize=8.45, color="#222222", zorder=20)
    return ax


def overlay(ax, row):
    for poly in OBS[row]:
        fill(ax, poly, 3, color="#616161", alpha=0.5)
    for line in GEO_LINES:
        draw(ax, line, COAST, 0.65, 4)


TOPS = [12.7, 416.5, 822.0]
for row, top in enumerate(TOPS):
    # deterministic panel
    ax = base(24, top, 502, 312.5, TIME_DET[row], "Deterministic forecast")
    overlay(ax, row)
    for line in DET_MEAN[row]:
        draw(ax, rounded(line), RED, 0.85, 5)
    for line in DET_SINGLE[row]:
        draw(ax, rounded(line), BLACK, 0.85, 6)
    for line in DET_MEDIAN[row]:
        draw(ax, rounded(line), BLUE, 0.75, 7)
    handles = [Line2D([], [], color=c, lw=0.6) for c in ("#d8d8d8", "#f6c9c9", "#d6d6f6")]
    leg = ax.legend(handles, ["single run", "ensemble mean", "ensemble median"], loc="upper left",
                    bbox_to_anchor=(0.747, 0.9185), borderaxespad=0, fontsize=6.9, frameon=True,
                    fancybox=False, framealpha=1, edgecolor="#ececec", handlelength=2.5,
                    handletextpad=0.3, labelspacing=0.8, borderpad=0.45, labelcolor="#333333")
    leg.set_zorder(9)
    leg.get_frame().set_linewidth(0.7)

    # probabilistic panel
    ax = base(569, top, 501, 312.5, TIME_PROB[row], "Probabilistic forecast")
    for colour, polys in zip(LEVEL_COLOURS[1:], PROB_LEVELS[row]):
        for poly in polys:
            fill(ax, poly, 2, color=colour)
    overlay(ax, row)
    for line in PROB_OUTLINES[row]:
        draw(ax, rounded(line), RED, 0.85, 5)
    cb = ax.inset_axes([0.2116, 0.888, 0.577, 0.0367])
    cb.bar(BAR_EDGES, [1]*len(BAR_EDGES), width=10, align="edge", color=LEVEL_COLOURS, linewidth=0)
    cb.set_xlim(0, 100); cb.set_ylim(0, 1)
    cb.set_yticks([])
    cb.set_xticks(BAR_TICKS)
    cb.set_xticklabels([str(v) for v in BAR_TICKS], fontsize=8.7, color="#222222")
    cb.tick_params(axis="x", length=0, pad=3)
    cb.patch.set_alpha(0)
    for s in cb.spines.values():
        s.set_color("#e2e2e2"); s.set_linewidth(0.6)
    cb.set_title("Probability", fontsize=8.2, color="#222222", pad=3.5)
    cb.set_zorder(9)

fig.savefig("out.png", dpi=100, facecolor="white")
